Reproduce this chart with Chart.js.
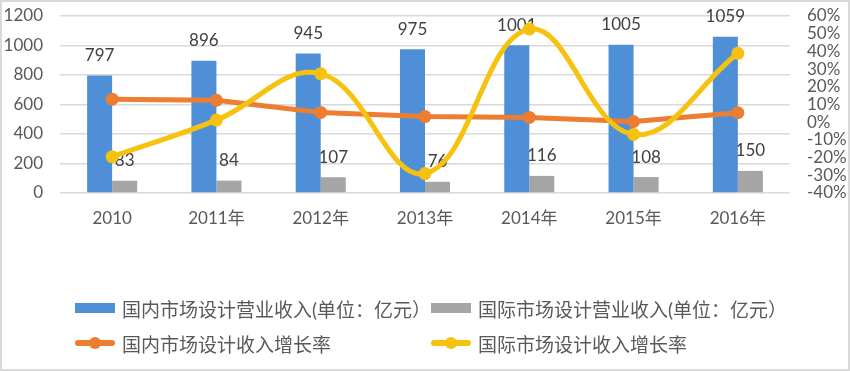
<!DOCTYPE html>
<html>
<head>
<meta charset="utf-8">
<script src="https://cdn.jsdelivr.net/npm/chart.js@4"></script>
<style>
  html, body { margin: 0; padding: 0; background: #fff; }
  #wrap { position: relative; width: 850px; height: 371px; }
  #frame { position: absolute; left: 0; top: 0; width: 850px; height: 371px; box-sizing: border-box; border: 2px solid #d9d9d9; pointer-events: none; }
  #legend { position: absolute; left: 0; top: 0; width: 850px; height: 371px; pointer-events: none; }
  .item { position: absolute; height: 24px; display: flex; align-items: center; font: 19px Lato, "Noto Sans CJK SC", sans-serif; color: #595959; white-space: nowrap; }
  .sym { position: relative; width: 40px; height: 24px; margin-right: 7px; }
</style>
</head>
<body>
<div id="wrap">
  <canvas id="myChart"></canvas>
  <div id="legend"></div>
  <div id="frame"></div>
</div>
<script>
const years = ['2010', '2011年', '2012年', '2013年', '2014年', '2015年', '2016年'];
const domesticRevenue = [797, 896, 945, 975, 1001, 1005, 1059];
const intlRevenue = [83, 84, 107, 76, 116, 108, 150];
const domesticGrowth = [13.0, 12.4, 5.5, 3.2, 2.7, 0.4, 5.4];
const intlGrowth = [-19.5, 1.2, 27.4, -29.0, 52.6, -6.9, 38.9];
const leftTicks = [0, 200, 400, 600, 800, 1000, 1200];
const rightTicks = [-40, -30, -20, -10, 0, 10, 20, 30, 40, 50, 60];

const FONT = 'Lato, "Noto Sans CJK SC", sans-serif';

// value labels above the bars, drawn before the lines so the lines sit on top
const barLabels = {
  id: 'barLabels',
  afterDatasetDraw(chart, args) {
    const meta = args.meta;
    if (meta.type !== 'bar') return;
    const c = chart.ctx;
    const ds = chart.data.datasets[args.index];
    c.save();
    c.font = '17px ' + FONT;
    c.fillStyle = '#404040';
    c.textAlign = 'center';
    c.textBaseline = 'middle';
    meta.data.forEach((el, i) => {
      c.fillText(ds.data[i], el.x, el.y - 20);
    });
    c.restore();
  }
};

function fixY(width) {
  return function (scale) {
    scale.width = width;
    scale.paddingTop = 0;
    scale.paddingBottom = 0;
  };
}

const ctx = document.getElementById('myChart');
const myChart = new Chart(ctx, {
  data: {
    labels: years,
    datasets: [
      {
        type: 'bar',
        label: '国内市场设计营业收入(单位：亿元）',
        data: domesticRevenue,
        backgroundColor: '#4f8fd7',
        yAxisID: 'y',
        categoryPercentage: 0.48,
        barPercentage: 1.0,
        order: 2
      },
      {
        type: 'bar',
        label: '国际市场设计营业收入(单位：亿元）',
        data: intlRevenue,
        backgroundColor: '#a5a5a5',
        yAxisID: 'y',
        categoryPercentage: 0.48,
        barPercentage: 1.0,
        order: 3
      },
      {
        type: 'line',
        label: '国内市场设计收入增长率',
        data: domesticGrowth,
        borderColor: '#ed7d31',
        backgroundColor: '#ed7d31',
        borderWidth: 5,
        pointRadius: 6.5,
        pointBorderWidth: 0,
        tension: 0,
        yAxisID: 'y2',
        order: 1
      },
      {
        type: 'line',
        label: '国际市场设计收入增长率',
        data: intlGrowth,
        borderColor: '#f6c20f',
        backgroundColor: '#f6c20f',
        borderWidth: 5,
        pointRadius: 6.5,
        pointBorderWidth: 0,
        tension: 0.4,
        yAxisID: 'y2',
        order: 0
      }
    ]
  },
  options: {
    responsive: true,
    maintainAspectRatio: false,
    animation: false,
    devicePixelRatio: 1,
    layout: { padding: { top: 16, left: 0, right: 0, bottom: 0 } },
    plugins: {
      legend: { display: false },
      tooltip: { enabled: false }
    },
    scales: {
      x: {
        grid: { display: false, drawTicks: false },
        border: { display: false },
        ticks: { color: '#595959', font: { size: 17, family: FONT }, padding: 15, maxRotation: 0 },
        afterFit(scale) { scale.height = 178; }
      },
      y: {
        position: 'left',
        min: 0,
        max: 1200,
        afterBuildTicks(scale) { scale.ticks = leftTicks.map(v => ({ value: v })); },
        grid: { color: '#d9d9d9', lineWidth: 1.5, drawTicks: false },
        border: { display: false },
        ticks: { color: '#595959', font: { size: 17, family: FONT }, padding: 17, callback: v => String(v) },
        afterFit: fixY(60)
      },
      y2: {
        position: 'right',
        min: -40,
        max: 60,
        afterBuildTicks(scale) { scale.ticks = rightTicks.map(v => ({ value: v })); },
        grid: { display: false, drawTicks: false },
        border: { display: false },
        ticks: {
          color: '#595959',
          font: { size: 17, family: FONT },
          padding: 17,
          autoSkip: false,
          callback: v => v + '%'
        },
        afterFit: fixY(60)
      }
    }
  },
  plugins: [barLabels]
});

// legend in two aligned columns
const legendPos = [[75, 296], [431, 296], [75, 331], [431, 331]];
const legendEl = document.getElementById('legend');
myChart.data.datasets.forEach((ds, i) => {
  const item = document.createElement('div');
  item.className = 'item';
  item.style.left = legendPos[i][0] + 'px';
  item.style.top = legendPos[i][1] + 'px';
  const sym = document.createElement('div');
  sym.className = 'sym';
  if (ds.type === 'bar') {
    sym.innerHTML = '<div style="position:absolute;left:0;top:7px;width:40px;height:10px;background:' + ds.backgroundColor + '"></div>';
  } else {
    sym.innerHTML = '<div style="position:absolute;left:0;top:9px;width:40px;height:6px;border-radius:3px;background:' + ds.borderColor + '"></div>' +
      '<div style="position:absolute;left:14px;top:6px;width:12px;height:12px;border-radius:6px;background:' + ds.borderColor + '"></div>';
  }
  item.appendChild(sym);
  const txt = document.createElement('span');
  txt.textContent = ds.label;
  item.appendChild(txt);
  legendEl.appendChild(item);
});
</script>
</body>
</html>
